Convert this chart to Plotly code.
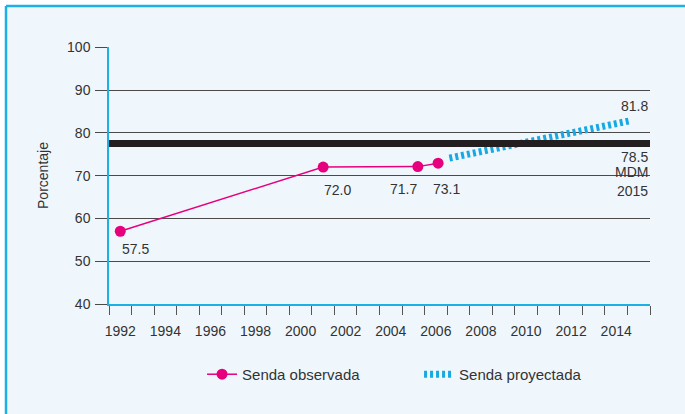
import plotly.graph_objects as go

# ---- data ----
obs_years = [1992, 2001, 2005.2, 2006.1]
obs_values = [57.0, 72.0, 72.1, 72.9]
obs_labels = ["57.5", "72.0", "71.7", "73.1"]
proj_years = [2006.6, 2014.6]
proj_values = [74.1, 82.8]
proj_label = "81.8"
mdm_value = 77.5
mdm_labels = ["78.5", "MDM", "2015"]
y_ticks = [40, 50, 60, 70, 80, 90, 100]
x_label_years = list(range(1992, 2015, 2))
x_bounds = [y + 0.5 for y in range(1991, 2016)]

BLUE = "#1DB0E6"
PINK = "#E6007E"
DOT_BLUE = "#18A8E2"
BG = "#EFF7FD"
TXT = "#333333"
GRID = "#4A4A4A"
FONT = "Liberation Sans, Arial, sans-serif"

W, H = 685, 414
ML, MR, MT, MB = 109, 35, 47, 110
PW, PH = W - ML - MR, H - MT - MB

fig = go.Figure()

fig.add_trace(go.Scatter(
    x=obs_years, y=obs_values, mode="lines+markers", name="Senda observada",
    line=dict(color=PINK, width=1.5), marker=dict(color=PINK, size=11),
))
fig.add_trace(go.Scatter(
    x=proj_years, y=proj_values, mode="lines", name="Senda proyectada",
    line=dict(color=DOT_BLUE, width=7, dash="3px,3px"),
))

# frame geometry in paper units (panel starts 6px from left/top of the page)
FX0 = (6 - ML) / PW
FX1 = (W - ML) / PW
FY0 = -MB / PH
FY1 = 1 + (MT - 6) / PH
shapes = [
    dict(type="rect", xref="paper", yref="paper", x0=FX0, x1=FX1, y0=FY0, y1=FY1,
         fillcolor=BG, line=dict(width=0), layer="below"),
    dict(type="line", xref="paper", yref="paper", x0=FX0, x1=FX0, y0=FY0, y1=FY1,
         line=dict(color=BLUE, width=2.5), layer="below"),
    dict(type="line", xref="paper", yref="paper", x0=FX0, x1=FX1, y0=FY1, y1=FY1,
         line=dict(color=BLUE, width=2.5), layer="below"),
    # MDM reference line
    dict(type="line", xref="paper", yref="y", x0=0, x1=1, y0=mdm_value, y1=mdm_value,
         line=dict(color="#231F20", width=7), layer="above"),
]

annotations = []
label_style = [("left", 0, -18), ("left", -1, -22.5), ("right", 1, -22.5), ("left", -7, -26)]
for xv, yv, txt, (anc, xs, ys) in zip(obs_years, obs_values, obs_labels, label_style):
    annotations.append(dict(x=xv, y=yv, text=txt, showarrow=False, xanchor=anc,
                            xshift=xs, yshift=ys, font=dict(size=14, color=TXT, family=FONT)))
annotations.append(dict(xref="paper", x=1.0, y=proj_values[-1], text=proj_label, showarrow=False,
                        xanchor="right", yshift=15, font=dict(size=14, color=TXT, family=FONT)))
for txt, ys in zip(mdm_labels, [-13.4, -28.7, -47.4]):
    annotations.append(dict(xref="paper", x=1.0, y=mdm_value, text=txt, showarrow=False,
                            xanchor="right", yshift=ys, font=dict(size=14, color=TXT, family=FONT)))

fig.update_layout(
    width=W, height=H,
    margin=dict(l=ML, r=MR, t=MT, b=MB),
    paper_bgcolor="white",
    plot_bgcolor="rgba(0,0,0,0)",
    font=dict(family=FONT, size=14, color=TXT),
    shapes=shapes,
    annotations=annotations,
    showlegend=True,
    legend=dict(orientation="h", x=0.172, y=-0.21, xanchor="left", yanchor="top",
                bgcolor="rgba(0,0,0,0)", entrywidth=172, entrywidthmode="pixels",
                font=dict(size=15, color=TXT, family=FONT), itemclick=False),
)

fig.update_xaxes(
    range=[1991.5, 2015.5],
    tickvals=x_label_years, ticktext=[str(y) for y in x_label_years],
    ticks="outside", ticklen=13, tickcolor="rgba(0,0,0,0)",
    minor=dict(tickvals=x_bounds, ticks="outside", ticklen=9, tickcolor="#555555", tickwidth=1),
    showgrid=False, zeroline=False,
    showline=True, linecolor=BLUE, linewidth=1.5,
    tickfont=dict(size=14, color=TXT, family=FONT),
)
fig.update_yaxes(
    range=[40, 100.05],
    tickvals=y_ticks,
    ticks="outside", ticklen=12, tickcolor=GRID, tickwidth=1.2,
    showgrid=True, gridcolor=GRID, gridwidth=1.2,
    zeroline=False,
    showline=True, linecolor=BLUE, linewidth=1.5,
    tickfont=dict(size=14, color=TXT, family=FONT),
    ticklabelstandoff=2,
    title=dict(text="Porcentaje", font=dict(size=14, color=TXT, family=FONT), standoff=15),
)

fig.write_html("out.html", config={"displayModeBar": False},
               post_script="document.body.style.margin='0';")
